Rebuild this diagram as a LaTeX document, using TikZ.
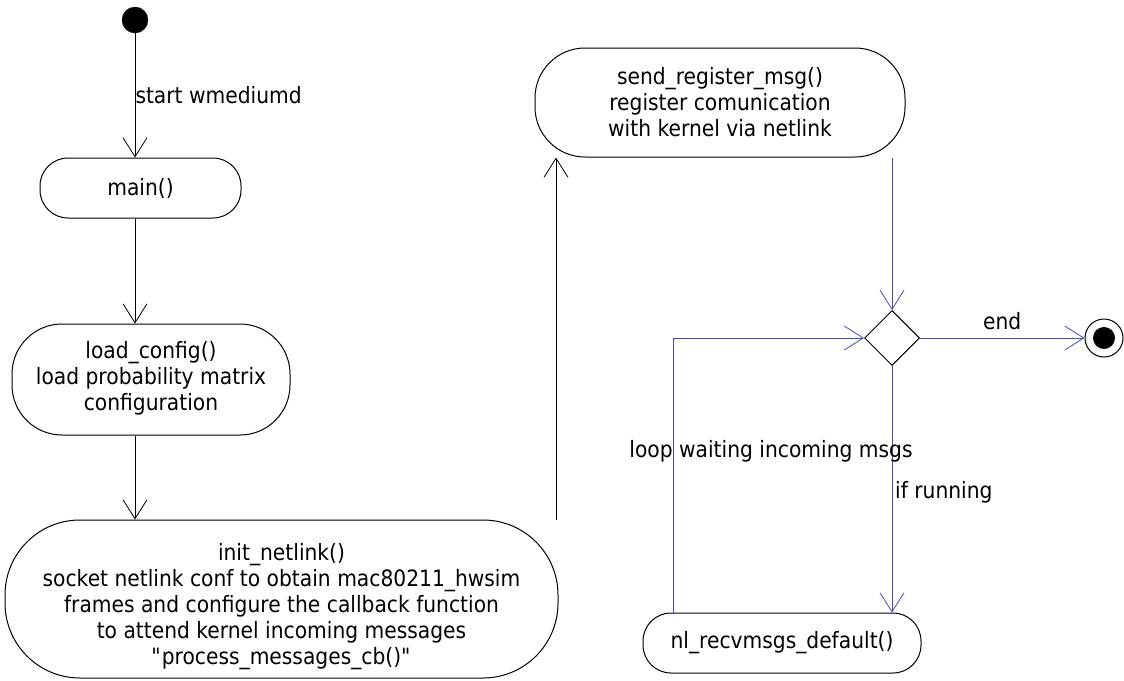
\documentclass[tikz,border=0pt]{standalone}
\usepackage{fontspec}
\setmainfont{DejaVu Sans}[FakeStretch=0.9]
\usetikzlibrary{arrows.meta,shapes.geometric}
\definecolor{flowblue}{RGB}{72,72,184}
\begin{document}
\begin{tikzpicture}[x=1pt,y=-1pt,
  font=\fontsize{22.5}{26}\selectfont,
  act/.style={draw=black, line width=1pt, fill=white, align=center, inner sep=0pt},
  arr/.style={line width=1pt, -{Straight Barb[length=19pt,width=24pt,line width=0.8pt]}},
  barr/.style={arr, draw=flowblue},
  lbl/.style={inner sep=0pt}]
\useasboundingbox (0,0) rectangle (1124,680);

% start and end states
\node[circle, fill=black, draw=black, minimum size=26pt, inner sep=0pt] (start) at (135,20) {};
\node[circle, draw=black, line width=1pt, minimum size=38pt, inner sep=0pt] (endc) at (1104,338) {};
\fill[black] (endc) circle (11pt);

% activities
\node[act, minimum width=201pt, minimum height=60pt, rounded corners=28pt] (main) at (140.5,188) {main()};
\node[act, minimum width=278pt, minimum height=111pt, rounded corners=50pt] (load) at (151,379.5)
  {load\_config()\\load probability matrix\\configuration\rule[-7pt]{0pt}{7pt}};
\node[act, minimum width=553pt, minimum height=158pt, rounded corners=75pt] (init) at (281.5,599)
  {\rule{0pt}{32pt}init\_netlink()\\socket netlink conf to obtain mac80211\_hwsim\\frames and configure the callback function\\to attend kernel incoming messages\\\textquotedbl process\_messages\_cb()\textquotedbl};
\node[act, minimum width=370pt, minimum height=109pt, rounded corners=50pt] (send) at (720,102.5)
  {send\_register\_msg()\\register comunication\\with kernel via netlink};
\node[act, minimum width=278pt, minimum height=60pt, rounded corners=28pt] (nl) at (782,643)
  {nl\_recvmsgs\_default()};

% decision
\node[draw=black, line width=1pt, diamond, aspect=1, minimum size=55pt, inner sep=0pt, fill=white] (dia) at (892,338) {};

% left column
\draw[arr] (start) -- node[lbl, anchor=west, pos=0.5] {start wmediumd} (start |- main.north);
\draw[arr] (main.south -| start) -- (load.north -| start);
\draw[arr] (load.south -| start) -- (init.north -| start);
\coordinate (up) at (556,520);
\draw[arr] (up) -- (up |- send.south);

% right column
\draw[barr] (send.south -| dia) -- (dia.north);
\draw[barr] (dia.east) -- node[lbl, above=8pt] {end} (endc);
\draw[barr] (dia.south) -- (dia.south |- nl.north);
\node[lbl, anchor=west] (ifr) at (895,492) {if running};
\coordinate (lp) at (673,613);
\draw[barr] (lp) |- (dia.west);
\node[lbl] (loopl) at (771,451) {loop waiting incoming msgs};
\end{tikzpicture}
\end{document}
